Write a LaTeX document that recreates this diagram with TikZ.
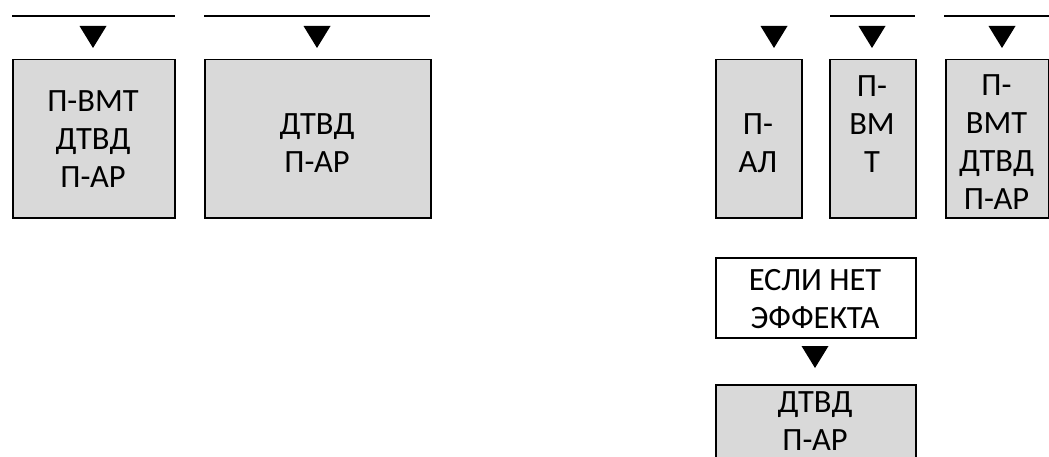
\documentclass[tikz,border=0pt]{standalone}
\usepackage{fontspec}
\setmainfont{Carlito}
\definecolor{boxgray}{HTML}{D9D9D9}
\tikzset{
  box/.style={draw=black, line width=1.5pt, fill=boxgray, inner sep=0pt, anchor=north west},
  whitebox/.style={box, fill=white},
  lbl/.style={anchor=base, align=center, inner sep=0pt, font=\fontsize{32.5}{38}\selectfont},
  bar/.style={line width=1.5pt},
  tri/.style={fill=black}
}
\newcommand{\downtri}[2]{\fill[tri] (#1-13.5,#2) -- ++(27,0) -- ++(-13.5,22) -- cycle;}
\begin{document}
\begin{tikzpicture}[x=1pt,y=-1pt]
\useasboundingbox (0,0) rectangle (1049,457);
\clip (0,0) rectangle (1049,457);
% top bars
\draw[bar] (12,16) -- (175,16);
\draw[bar] (204,16) -- (430,16);
\draw[bar] (830,16) -- (915,16);
\draw[bar] (944,16) -- (1049,16);
% triangles
\downtri{93}{26}
\downtri{317}{26}
\downtri{774}{26}
\downtri{872}{26}
\downtri{1002}{26}
\downtri{815}{346}
% boxes
\node[box, minimum width=162pt, minimum height=158pt] (b1) at (12,59) {};
\node[box, minimum width=226pt, minimum height=158pt] (b2) at (204,59) {};
\node[box, minimum width=86pt, minimum height=158pt] (b3) at (715,59) {};
\node[box, minimum width=86pt, minimum height=158pt] (b4) at (829,59) {};
\node[box, minimum width=103pt, minimum height=158pt] (b5) at (945,59) {};
\node[whitebox, minimum width=200pt, minimum height=80pt] (e) at (715,257) {};
\node[box, minimum width=200pt, minimum height=90pt] (b6) at (715,384) {};
% labels (base anchor = last line baseline)
\node[lbl] (t1) at (93,188) {П-ВМТ\\ДТВД\\П-АР};
\node[lbl] (t2) at (317,173) {ДТВД\\П-АР};
\node[lbl] (t3) at (758,173) {П-\\АЛ};
\node[lbl] (t4) at (872,173) {П-\\ВМ\\Т};
\node[lbl] (t5) at (996.5,210) {П-\\ВМТ\\ДТВД\\П-АР};
\node[lbl] (te) at (815,328) {ЕСЛИ НЕТ\\ЭФФЕКТА};
\node[lbl] (t6) at (815,450) {ДТВД\\П-АР};
\end{tikzpicture}
\end{document}
